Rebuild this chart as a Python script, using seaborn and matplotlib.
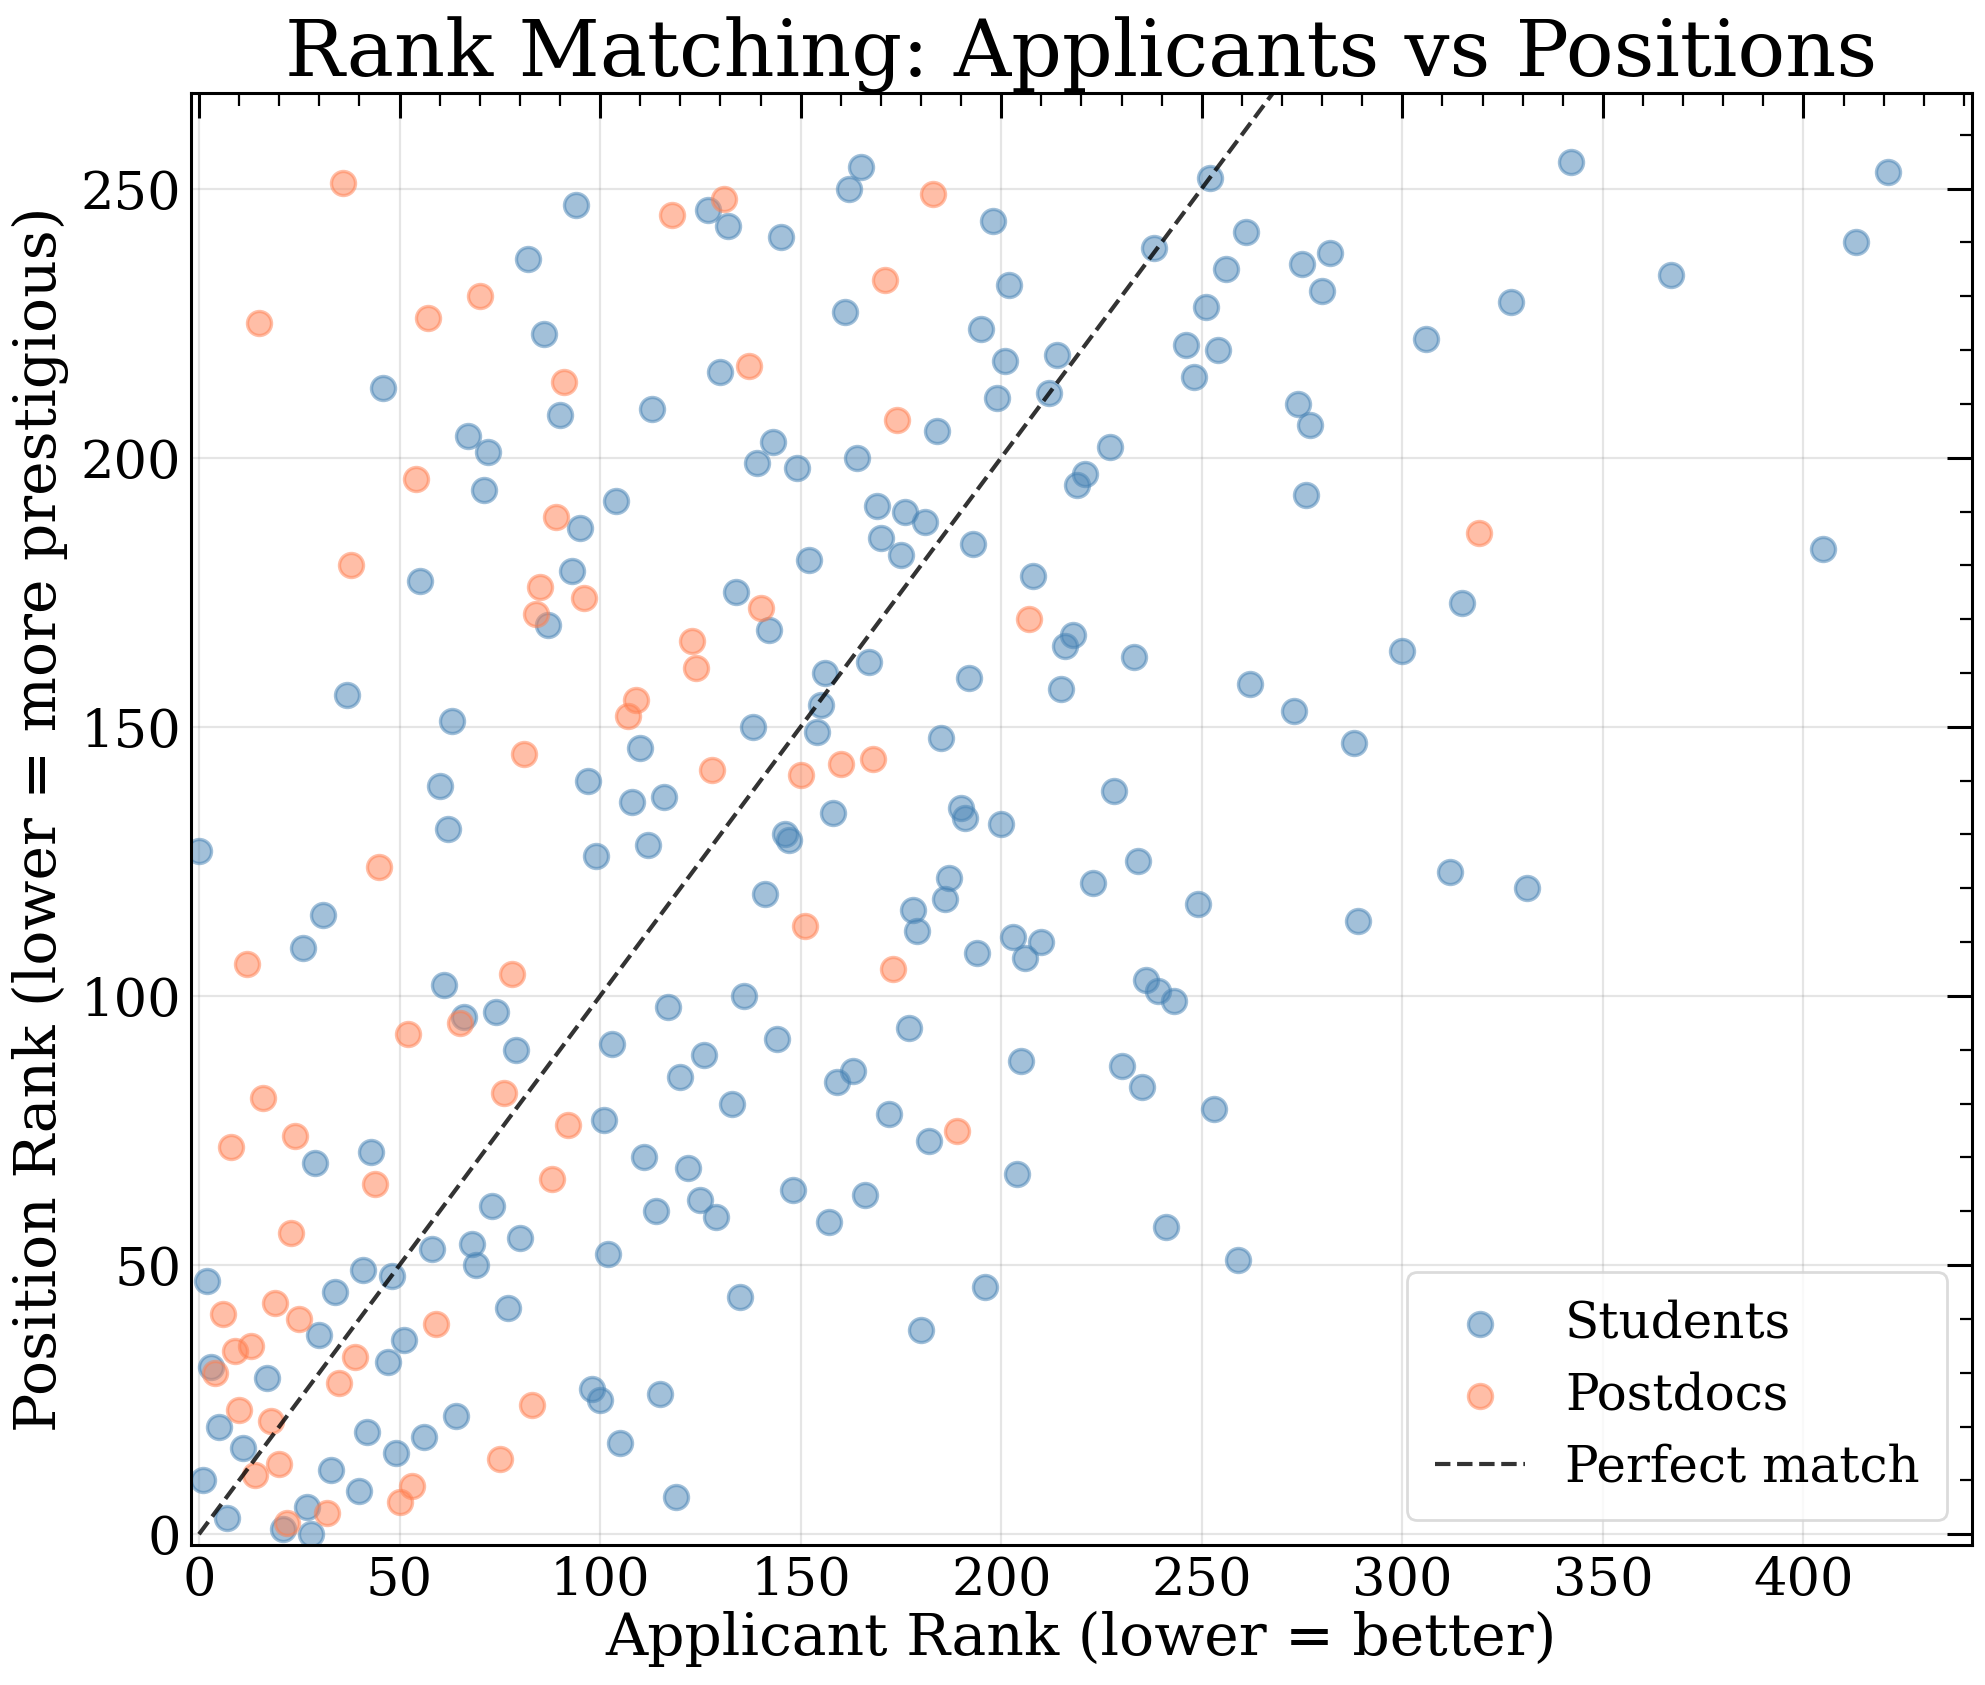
import pandas as pd
import seaborn as sns
import matplotlib.pyplot as plt
from matplotlib.ticker import MultipleLocator

# Students: applicant rank vs matched position rank
student_applicant_rank = [
    165, 162, 127, 132, 145, 198, 238, 252, 202, 251, 161, 195, 246, 201, 214, 248, 130, 199, 212, 184,
    143, 139, 149, 164, 227, 221, 219, 169, 176, 181, 170, 175, 193, 152, 208,
    94, 82, 86, 46, 90, 113, 67, 72, 71, 104, 95, 93, 55,
    342, 421, 261, 256, 275, 282, 280, 254, 413, 367, 327, 306, 274, 277, 276, 405,
    87, 37, 63, 110, 60, 97, 108, 116, 62, 0, 112, 99, 31, 26, 61, 66, 74, 79, 117, 103, 126,
    134, 142, 218, 216, 233, 167, 192, 215, 156, 155, 138, 154, 185, 228, 158, 190, 191, 200, 146, 147,
    234, 141, 187, 186, 223, 249, 178, 179, 203, 210, 206, 194, 236, 239, 243, 136, 177, 144, 205, 230,
    315, 300, 262, 273, 288, 312, 331, 289,
    120, 101, 29, 43, 111, 122, 73, 114, 125, 58, 68, 80, 102, 69, 2, 41, 48, 34, 77, 30, 51, 47, 3, 17,
    98, 100, 115, 64, 5, 42, 56, 11, 49, 105, 33, 1, 40, 119, 27, 7, 21, 28,
    163, 159, 235, 253, 133, 172, 182, 204, 148, 166, 129, 157, 241, 196, 135, 180, 259,
]
student_position_rank = [
    254, 250, 246, 243, 241, 244, 239, 252, 232, 228, 227, 224, 221, 218, 219, 215, 216, 211, 212, 205,
    203, 199, 198, 200, 202, 197, 195, 191, 190, 188, 185, 182, 184, 181, 178,
    247, 237, 223, 213, 208, 209, 204, 201, 194, 192, 187, 179, 177,
    255, 253, 242, 235, 236, 238, 231, 220, 240, 234, 229, 222, 210, 206, 193, 183,
    169, 156, 151, 146, 139, 140, 136, 137, 131, 127, 128, 126, 115, 109, 102, 96, 97, 90, 98, 91, 89,
    175, 168, 167, 165, 163, 162, 159, 157, 160, 154, 150, 149, 148, 138, 134, 135, 133, 132, 130, 129,
    125, 119, 122, 118, 121, 117, 116, 112, 111, 110, 107, 108, 103, 101, 99, 100, 94, 92, 88, 87,
    173, 164, 158, 153, 147, 123, 120, 114,
    85, 77, 69, 71, 70, 68, 61, 60, 62, 53, 54, 55, 52, 50, 47, 49, 48, 45, 42, 37, 36, 32, 31, 29,
    27, 25, 26, 22, 20, 19, 18, 16, 15, 17, 12, 10, 8, 7, 5, 3, 1, 0,
    86, 84, 83, 79, 80, 78, 73, 67, 64, 63, 59, 58, 57, 46, 44, 38, 51,
]

# Postdocs
postdoc_applicant_rank = [
    36, 118, 70, 15, 57, 91, 54, 89, 38, 85, 131, 183, 171, 137, 174, 96, 84, 123, 124, 109,
    107, 81, 45, 12, 78, 65, 52, 140, 207, 128, 150, 160, 168, 151, 173, 319,
    16, 76, 92, 8, 24, 44, 88, 23, 19, 6, 25, 59, 13, 9, 39, 4, 35, 83, 10, 18,
    75, 20, 14, 53, 50, 32, 22, 189,
]
postdoc_position_rank = [
    251, 245, 230, 225, 226, 214, 196, 189, 180, 176, 248, 249, 233, 217, 207, 174, 171, 166, 161, 155,
    152, 145, 124, 106, 104, 95, 93, 172, 170, 142, 141, 143, 144, 113, 105, 186,
    81, 82, 76, 72, 74, 65, 66, 56, 43, 41, 40, 39, 35, 34, 33, 30, 28, 24, 23, 21,
    14, 13, 11, 9, 6, 4, 2, 75,
]

students = pd.DataFrame({'Applicant Rank': student_applicant_rank,
                         'Position Rank': student_position_rank})
postdocs = pd.DataFrame({'Applicant Rank': postdoc_applicant_rank,
                         'Position Rank': postdoc_position_rank})

sns.set_style('white')
plt.rcParams['font.family'] = ['DejaVu Serif']
plt.rcParams['text.color'] = 'black'
plt.rcParams['axes.labelcolor'] = 'black'
plt.rcParams['xtick.color'] = 'black'
plt.rcParams['ytick.color'] = 'black'

fig, ax = plt.subplots(figsize=(9.925, 8.425), dpi=200)
fig.subplots_adjust(left=0.0962, right=0.9935, top=0.9448, bottom=0.0831)

sns.scatterplot(data=students, x='Applicant Rank', y='Position Rank', ax=ax,
                color='steelblue', alpha=0.5, s=75, edgecolor='face', linewidth=1.2,
                label='Students')
sns.scatterplot(data=postdocs, x='Applicant Rank', y='Position Rank', ax=ax,
                color='coral', alpha=0.5, s=75, edgecolor='face', linewidth=1.2,
                label='Postdocs')

max_rank = max(student_applicant_rank + postdoc_applicant_rank)
max_pos = max(student_position_rank + postdoc_position_rank)
ax.plot([0, max_rank], [0, max_rank], linestyle='--', color='black', alpha=0.8,
        linewidth=1.5, label='Perfect match')

ax.set_xlim(-2, max_rank * 1.05)
ax.set_ylim(-2, max_pos * 1.05)

ax.xaxis.set_major_locator(MultipleLocator(50))
ax.yaxis.set_major_locator(MultipleLocator(50))
ax.xaxis.set_minor_locator(MultipleLocator(10))
ax.yaxis.set_minor_locator(MultipleLocator(10))
ax.tick_params(which='both', direction='in', top=True, right=True, labelsize=19,
               colors='black')
ax.tick_params(which='major', length=9, width=1.1)
ax.tick_params(which='minor', length=4.5, width=0.8)
for spine in ax.spines.values():
    spine.set_linewidth(1.1)
    spine.set_color('black')

ax.grid(True, which='major', color='gray', alpha=0.2, linewidth=0.8)

ax.set_title('Rank Matching: Applicants vs Positions', fontsize=28.6, pad=6)
ax.set_xlabel('Applicant Rank (lower = better)', fontsize=21, labelpad=2)
ax.set_ylabel('Position Rank (lower = more prestigious)', fontsize=21, labelpad=4)

ax.legend(loc='lower right', fontsize=18, frameon=True, fancybox=True,
          edgecolor='lightgray', framealpha=0.8, borderpad=0.55, labelspacing=0.45,
          handlelength=1.8)

plt.savefig('out.png', dpi=200)
